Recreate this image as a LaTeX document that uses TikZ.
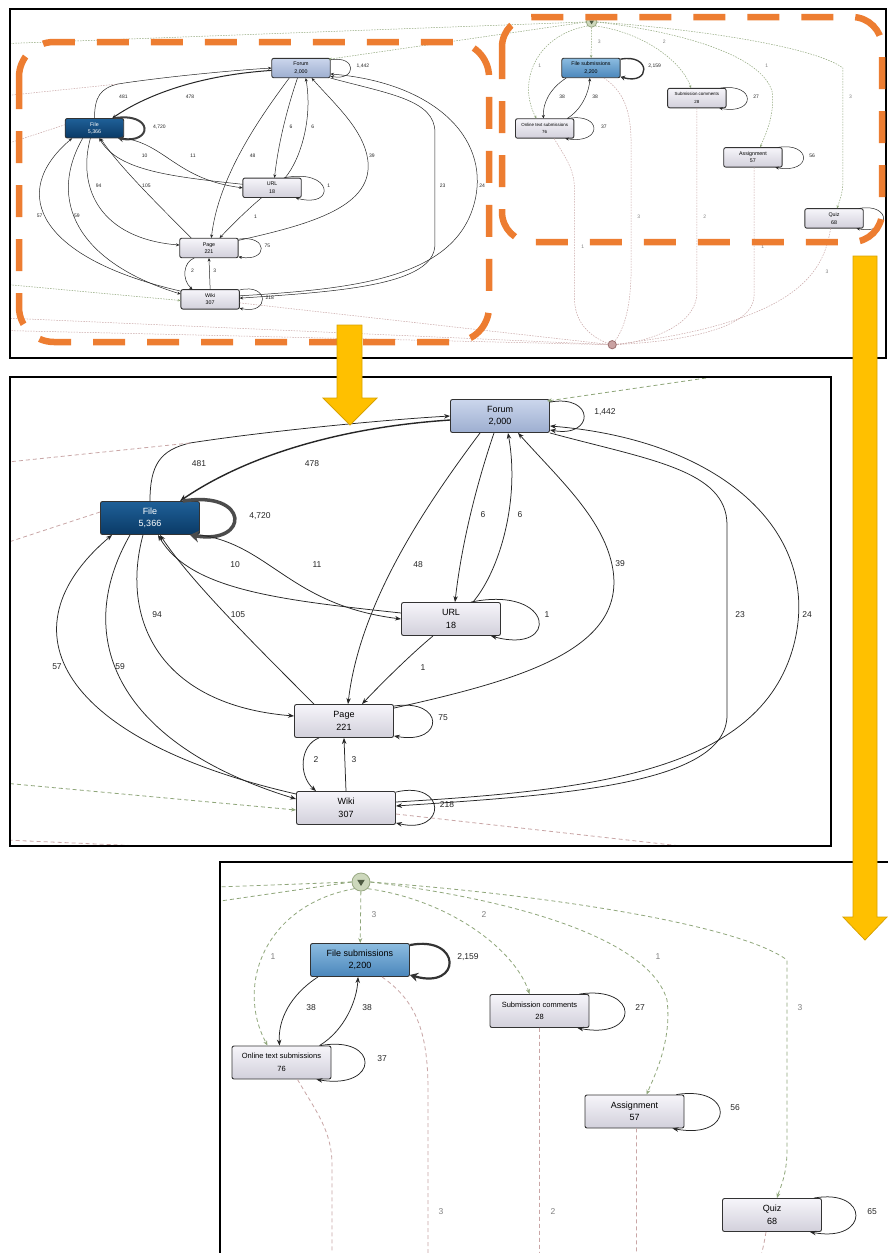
\documentclass[tikz,border=0pt]{standalone}
\usepackage{fontspec}
\setmainfont{Liberation Sans}
\usetikzlibrary{arrows.meta}
\definecolor{boxtop}{HTML}{F6F5FA}
\definecolor{boxbot}{HTML}{D2D0DB}
\definecolor{forumtop}{HTML}{CBD6EC}
\definecolor{forumbot}{HTML}{9DAED0}
\definecolor{filetop}{HTML}{1F6098}
\definecolor{filebot}{HTML}{0A3A66}
\definecolor{fstop}{HTML}{8CBCE0}
\definecolor{fsbot}{HTML}{4A86BB}
\definecolor{dgreen}{HTML}{8FA67A}
\definecolor{dpink}{HTML}{C9A6A6}
\definecolor{startfill}{HTML}{CDD8BC}
\definecolor{startdraw}{HTML}{98A883}
\definecolor{endfill}{HTML}{C9A2A2}
\definecolor{enddraw}{HTML}{9A6E6E}
\definecolor{orangeline}{HTML}{ED7D31}
\definecolor{yellowfill}{HTML}{FFC000}
\definecolor{yellowdraw}{HTML}{D9A300}
\newif\ifdrawA
\newif\ifdrawB
\newif\ifedgelabel
\newif\iflowlabels
\tikzset{
  box/.style={draw=black!80, line width=0.9pt, rounded corners=2pt, minimum width=99pt, minimum height=33pt, inner sep=1pt, align=center, font=\fontsize{9}{12.5}\selectfont, top color=boxtop, bottom color=boxbot, text=black},
  smallbox/.style={box, font=\fontsize{7.5}{12.5}\selectfont},
  startnode/.style={circle, minimum size=18pt, inner sep=0pt, fill=startfill, draw=startdraw, line width=0.8pt},
  endnode/.style={circle, minimum size=14pt, inner sep=0pt, fill=endfill, draw=enddraw, line width=0.8pt},
  flow/.style={draw=black!85, line width=0.75pt, -{Stealth[length=6pt,width=4.5pt]}},
  heavyflow/.style={draw=black!85, line width=1.4pt, -{Stealth[length=7pt,width=6pt]}},
  thickloopA/.style={draw=black!70, line width=3.5pt, -{Stealth[length=9pt,width=12pt]}},
  thickloopB/.style={draw=black!80, line width=2.2pt, -{Stealth[length=8pt,width=9pt]}},
  startflow/.style={draw=dgreen, line width=0.8pt, dash pattern=on 4pt off 3pt, -{Stealth[length=5pt,width=4pt]}},
  endflow/.style={draw=dpink, line width=0.8pt, dash pattern=on 4pt off 3pt},
  lbl/.style={font=\fontsize{8.5}{9}\selectfont, text=black!85, inner sep=0pt},
  glbl/.style={lbl, text=black!50},
  panel/.style={draw=black, line width=1.5pt},
  orangedash/.style={draw=orangeline, line width=6.5pt, dash pattern=on 32pt off 22pt},
  yarrow/.style={fill=yellowfill, draw=yellowdraw, line width=0.8pt},
}
\newcommand\wholemap{%
  % ---------- learning objects graph (nodes always exist) ----------
  \node[box, top color=forumtop, bottom color=forumbot] (forum) at (500,416) {\ifdrawA Forum\\2,000\fi};
  \node[box, top color=filetop, bottom color=filebot, text=white] (file) at (150,518) {\ifdrawA File\\5,366\fi};
  \node[box] (url) at (451,619) {\ifdrawA URL\\18\fi};
  \node[box] (page) at (344,721) {\ifdrawA Page\\221\fi};
  \node[box] (wiki) at (346,808) {\ifdrawA Wiki\\307\fi};
  % ---------- terminals and assignment graph ----------
  \begin{scope}[shift={(631.5,-544.1)}]
    \node[startnode] (start) at (361,882) {};
    \fill[dgreen!55!black] (start.center) ++(-3.8,-2.2) -- ++(7.6,0) -- ++(-3.8,6.2) -- cycle;
    \node[endnode] (finish) at (396,1429) {};
    \ifdrawB
    \node[box, top color=fstop, bottom color=fsbot] (fs) at (360,960) {File submissions\\2,200};
    \node[smallbox] (ots) at (281.5,1062.5) {Online text submissions\\76};
    \node[smallbox] (sc) at (539.5,1011) {Submission comments\\28};
    \node[box] (asg) at (634.5,1111.5) {Assignment\\57};
    \node[box] (quiz) at (772,1215) {Quiz\\68};
    % start flows
    \draw[startflow] (start) -- (fs);
    \draw[startflow] (start.south west) .. controls (265,905) and (235,985) .. ([xshift=-14pt]ots.north);
    \draw[startflow] (start.south east) .. controls (450,900) and (515,950) .. ([xshift=-10pt]sc.north);
    \draw[startflow] (start.east) .. controls (520,900) and (650,940) .. (667,1000) .. controls (672,1040) and (655,1075) .. ([xshift=12pt]asg.north);
    \draw[startflow] (start.east) .. controls (550,895) and (740,925) .. (787,960) -- (787,1150) .. controls (787,1175) and (780,1188) .. ([xshift=5pt]quiz.north);
    % end flows
    \draw[endflow] ([xshift=16pt]ots.south) .. controls (315,1110) and (332,1130) .. (332,1165) -- (332,1350) .. controls (332,1400) and (370,1420) .. (finish);
    \draw[endflow] ([xshift=22pt]fs.south) .. controls (415,1000) and (428,1030) .. (428,1090) -- (428,1300) .. controls (428,1380) and (410,1410) .. (finish);
    \draw[endflow] (sc.south) -- (539.5,1340) .. controls (539.5,1400) and (450,1425) .. (finish);
    \draw[endflow] ([xshift=2pt]asg.south) -- (636.5,1345) .. controls (636.5,1410) and (480,1425) .. (finish);
    \draw[endflow] ([xshift=-6pt]quiz.south) .. controls (755,1300) and (720,1390) .. (finish);
    % solid flows
    \draw[flow] ([xshift=-42pt]fs.south) .. controls (290,995) and (278,1020) .. ([xshift=-2pt]ots.north);
    \draw[flow] ([xshift=38pt]ots.north) .. controls (345,1030) and (357,1000) .. ([xshift=-2pt]fs.south);
    \draw[thickloopB] ([yshift=-2pt]fs.north east) .. controls (462,935) and (462,990) .. ([yshift=2pt]fs.south east);
    \draw[flow] ([xshift=-11pt]ots.north east) .. controls (380,1035) and (380,1090) .. ([xshift=-15pt]ots.south east);
    \draw[flow] ([xshift=-10pt]sc.north east) .. controls (640,985) and (640,1040) .. ([xshift=-12pt]sc.south east);
    \draw[flow] ([xshift=-8pt]asg.north east) .. controls (735,1085) and (735,1140) .. ([xshift=-12pt]asg.south east);
    \draw[flow] ([xshift=-8pt]quiz.north east) .. controls (870,1188) and (870,1243) .. ([xshift=-12pt]quiz.south east);
    % labels
    \node[glbl] (lb1) at (374,915) {3};
    \node[glbl] (lb2) at (273,957) {1};
    \node[glbl] (lb3) at (484,915) {2};
    \node[lbl] (lb4) at (468,957) {2,159};
    \node[lbl] (lb5) at (311,1008) {38};
    \node[lbl] (lb6) at (367,1008) {38};
    \node[lbl] (lb7) at (382,1059) {37};
    \node[lbl] (lb8) at (640,1008) {27};
    \node[glbl] (lb9) at (658,957) {1};
    \node[glbl] (lb10) at (800,1008) {3};
    \node[lbl] (lb11) at (735,1108) {56};
    \ifedgelabel
    \node[lbl] (lb12) at (872,1212) {65};
    \fi
    \node[glbl] (lb13) at (441,1212) {3};
    \node[glbl] (lb14) at (553,1212) {2};
    \iflowlabels
    \node[glbl] (lb15) at (346,1263) {1};
    \node[glbl] (lb16) at (651,1263) {1};
    \node[glbl] (lb17) at (760,1306) {3};
    \fi
    \fi
  \end{scope}
  % ---------- dashed flows between the terminals and graph A ----------
  \draw[startflow] (start.west) -- ([xshift=-3pt,yshift=-2pt]forum.north east);
  \draw[startflow] (start.west) -- (-40,376) -- (-40,779) -- ([yshift=-2pt]wiki.west);
  \ifdrawA
  \draw[flow] (file.north) .. controls (150,465) and (160,450) .. (190,443) coordinate (k481) .. controls (260,432) and (380,420) .. (forum.west);
  \draw[endflow] (k481) -- (-40,467) -- (-40,838) -- (finish);
  \fi
  \draw[endflow] ([yshift=6pt]file.west) -- (-40,558) -- (-40,860) -- (finish);
  \draw[endflow] ([yshift=-6pt]wiki.east) -- (finish);
  % ---------- solid flows of graph A ----------
  \ifdrawA
  \draw[heavyflow] ([yshift=-4pt]forum.west) .. controls (330,428) and (240,460) .. ([xshift=30pt]file.north);
  \draw[thickloopA] ([xshift=-17pt]file.north east) .. controls (250,490) and (250,545) .. ([xshift=-10pt]file.south east);
  \draw[flow] ([yshift=-3pt]forum.north east) .. controls +(45,-8) and +(45,8) .. ([yshift=3pt]forum.south east);
  \draw[flow] (file.south east) .. controls (270,545) and (290,605) .. (url.west);
  \draw[flow] ([yshift=6pt]url.west) .. controls (280,600) and (190,590) .. ([xshift=8pt]file.south);
  \draw[flow] ([xshift=-6pt]forum.south) .. controls (478,480) and (462,540) .. ([xshift=4pt]url.north);
  \draw[flow] ([xshift=22pt]url.north) .. controls (500,570) and (520,500) .. ([xshift=8pt]forum.south);
  \draw[flow] ([xshift=-20pt]forum.south) .. controls (430,500) and (360,600) .. ([xshift=4pt]page.north);
  \draw[flow] ([yshift=-4pt]page.north east) .. controls (520,680) and (625,650) .. (613,570) .. controls (605,520) and (560,480) .. ([xshift=18pt]forum.south);
  \draw[flow] ([xshift=-30pt]url.north east) .. controls (555,585) and (560,655) .. ([xshift=-10pt]url.south east);
  \draw[flow] ([xshift=-18pt]url.south) .. controls (410,655) and (380,685) .. ([xshift=18pt]page.north);
  \draw[flow] ([xshift=-7pt]file.south) .. controls (120,620) and (160,705) .. ([yshift=5pt]page.west);
  \draw[flow] ([xshift=-30pt]page.north) .. controls (250,640) and (190,580) .. ([xshift=10pt]file.south);
  \draw[flow] ([xshift=-20pt]file.south) .. controls (70,640) and (120,745) .. ([yshift=9pt]wiki.west);
  \draw[flow] ([yshift=14pt]wiki.west) .. controls (60,740) and (0,630) .. ([xshift=-38pt]file.south);
  \draw[flow] ([yshift=-2pt]page.north east) .. controls (445,698) and (445,745) .. ([yshift=2pt]page.south east);
  \draw[flow] ([xshift=-25pt]page.south) .. controls (300,745) and (298,775) .. ([xshift=-30pt]wiki.north);
  \draw[flow] (wiki.north) -- (page.south);
  \draw[flow] ([yshift=-1pt]wiki.north east) .. controls (447,780) and (447,835) .. ([yshift=2pt]wiki.south east);
  \draw[flow] (forum.south east) .. controls (650,460) and (727,470) .. (727,525) -- (727,715) .. controls (727,785) and (560,795) .. ([yshift=2pt]wiki.east);
  \draw[flow] ([yshift=6pt]wiki.east) .. controls (600,790) and (765,770) .. (795,640) .. controls (820,530) and (720,440) .. ([yshift=-10pt]forum.east);
  % labels
  \node[lbl] (la1) at (199,464) {481};
  \node[lbl] (la2) at (312,464) {478};
  \node[lbl] (la3) at (260,516) {4,720};
  \node[lbl] (la4) at (605,412) {1,442};
  \node[lbl] (la5) at (483,515) {6};
  \node[lbl] (la6) at (520,515) {6};
  \node[lbl] (la7) at (235,565) {10};
  \node[lbl] (la8) at (317,565) {11};
  \node[lbl] (la9) at (418,565) {48};
  \node[lbl] (la10) at (620,564) {39};
  \node[lbl] (la11) at (157,615) {94};
  \node[lbl] (la12) at (238,615) {105};
  \node[lbl] (la13) at (547,615) {1};
  \node[lbl] (la14) at (740,615) {23};
  \node[lbl] (la15) at (807,615) {24};
  \node[lbl] (la16) at (57,667) {57};
  \node[lbl] (la17) at (120,667) {59};
  \node[lbl] (la18) at (423,668) {1};
  \node[lbl] (la19) at (443,718) {75};
  \node[lbl] (la20) at (316,760) {2};
  \node[lbl] (la21) at (354,760) {3};
  \node[lbl] (la22) at (447,805) {218};
  \fi
}
\begin{document}
\begin{tikzpicture}[x=1pt,y=-1pt]
\useasboundingbox (0,0) rectangle (888,1253);
\clip (0,0) rectangle (888,1253);
\fill[white] (0,0) rectangle (888,1253);
% ---------------- top overview ----------------
\begin{scope}
  \clip (10,9) rectangle (886,358);
  \drawAtrue \drawBtrue \edgelabelfalse \lowlabelstrue
  \begin{scope}[shift={(6,-177.4)}, scale=0.59, transform shape, name prefix=t-,
     flow/.style={draw=black!85, line width=0.5pt, -{Stealth[length=3.5pt,width=3pt]}},
     heavyflow/.style={draw=black!85, line width=1pt, -{Stealth[length=4pt,width=3.5pt]}},
     thickloopA/.style={draw=black!75, line width=2pt, -{Stealth[length=5pt,width=6pt]}},
     thickloopB/.style={draw=black!80, line width=1.4pt, -{Stealth[length=4.5pt,width=5pt]}},
     startflow/.style={draw=dgreen, line width=0.5pt, dash pattern=on 1.5pt off 1.2pt, -{Stealth[length=3pt,width=2.5pt]}},
     endflow/.style={draw=dpink, line width=0.5pt, dash pattern=on 1.5pt off 1.2pt}]
    \wholemap
  \end{scope}
\end{scope}
\draw[panel] (10,9) rectangle (886,358);
% ---------------- middle detail ----------------
\begin{scope}
  \clip (10,377) rectangle (831,846);
  \drawAtrue \drawBfalse \edgelabeltrue \lowlabelsfalse
  \begin{scope}[name prefix=m-]
    \wholemap
  \end{scope}
\end{scope}
\draw[panel] (10,377) rectangle (831,846);
% ---------------- bottom detail ----------------
\begin{scope}
  \clip (220,862) rectangle (888,1253);
  \drawAfalse \drawBtrue \edgelabeltrue \lowlabelsfalse
  \begin{scope}[shift={(-631.5,544.1)}, name prefix=b-]
    \wholemap
  \end{scope}
\end{scope}
\draw[panel] (220,1260) -- (220,862) -- (895,862);
% ---------------- highlight frames ----------------
\draw[orangedash, rounded corners=35pt] (19,42) rectangle (489,342);
\draw[orangedash, rounded corners=30pt] (502,17) rectangle (882,242);
% ---------------- yellow arrows ----------------
\draw[yarrow] (337,325) -- (362,325) -- (362,398) -- (377,398) -- (350,425) -- (323,398) -- (337,398) -- cycle;
\draw[yarrow] (853,256) -- (877,256) -- (877,917) -- (887,917) -- (865,940) -- (843,917) -- (853,917) -- cycle;
\end{tikzpicture}
\end{document}
